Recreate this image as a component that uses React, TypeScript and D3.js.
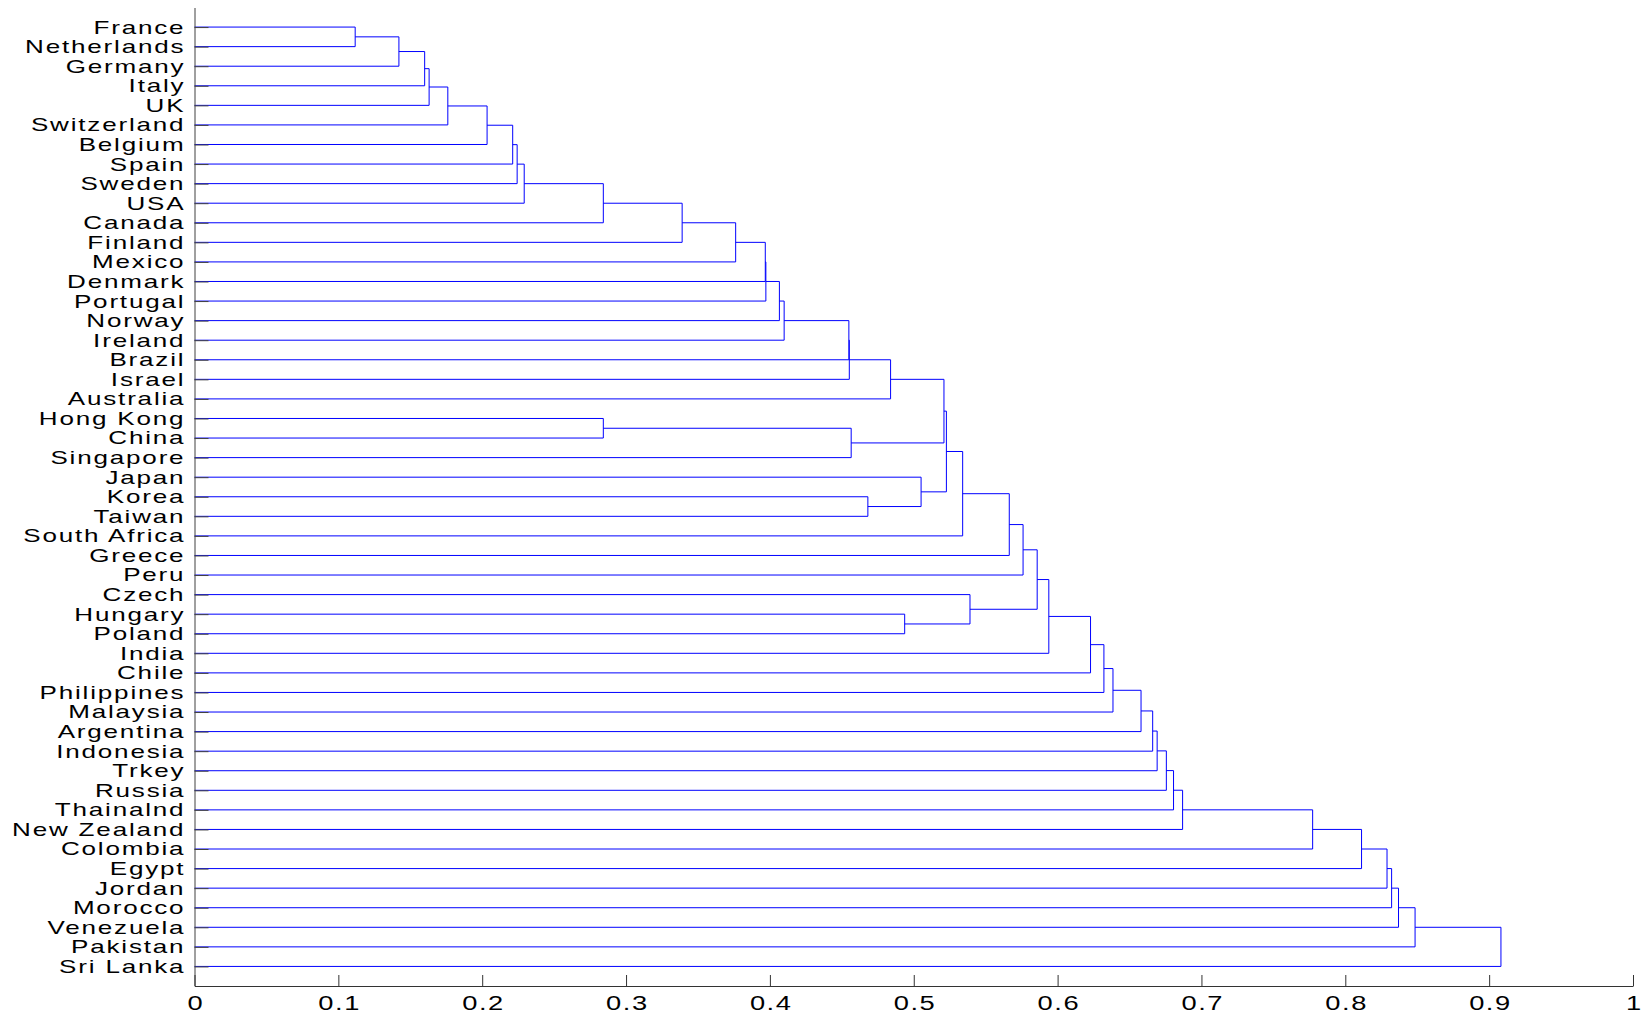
import React, { useEffect, useRef } from "react"
import * as d3 from "d3"

// leaf order, top to bottom
const countries = [
  "France", "Netherlands", "Germany", "Italy", "UK", "Switzerland", "Belgium", "Spain", "Sweden", "USA",
  "Canada", "Finland", "Mexico", "Denmark", "Portugal", "Norway", "Ireland", "Brazil", "Israel", "Australia",
  "Hong Kong", "China", "Singapore", "Japan", "Korea", "Taiwan", "South Africa", "Greece", "Peru", "Czech",
  "Hungary", "Poland", "India", "Chile", "Philippines", "Malaysia", "Argentina", "Indonesia", "Trkey", "Russia",
  "Thainalnd", "New Zealand", "Colombia", "Egypt", "Jordan", "Morocco", "Venezuela", "Pakistan", "Sri Lanka",
]

// linkage: node ids 0..48 are leaves, merge k creates node 49 + k
const mergeLeft = [
  0, 49, 50, 51, 52, 53, 54, 55, 56, 20, 57, 59, 60, 61, 62, 63, 64, 65, 66, 58, 24, 67, 30, 23,
  70, 73, 74, 29, 75, 77, 78, 79, 80, 81, 82, 83, 84, 85, 86, 87, 88, 89, 90, 91, 92, 93, 94, 95,
]
const mergeRight = [
  1, 2, 3, 4, 5, 6, 7, 8, 9, 21, 10, 11, 12, 13, 14, 15, 16, 17, 18, 22, 25, 19, 31, 69,
  68, 72, 26, 71, 27, 28, 76, 32, 33, 34, 35, 36, 37, 38, 39, 40, 41, 42, 43, 44, 45, 46, 47, 48,
]
const mergeDist = [
  0.1117, 0.1421, 0.16, 0.1631, 0.1761, 0.2034, 0.2212, 0.2243, 0.2292, 0.2842, 0.2842, 0.339,
  0.3762, 0.3968, 0.3972, 0.4066, 0.4099, 0.4549, 0.4552, 0.4565, 0.4681, 0.4839, 0.4937, 0.5051,
  0.521, 0.5227, 0.534, 0.5391, 0.5664, 0.576, 0.5858, 0.5939, 0.6229, 0.6322, 0.6385, 0.658,
  0.6661, 0.6692, 0.6756, 0.6806, 0.6869, 0.7773, 0.8113, 0.829, 0.8322, 0.837, 0.8485, 0.9082,
]
const xTicks = [0, 0.1, 0.2, 0.3, 0.4, 0.5, 0.6, 0.7, 0.8, 0.9, 1]

const width = 1644
const height = 1016
const font = "'Liberation Sans', Arial, Helvetica, sans-serif"
// the exported figure has horizontally stretched text
const stretch = "scale(1.4,1)"

const App = () => {
  const ref = useRef<SVGSVGElement>(null)

  useEffect(() => {
    const svg = d3.select(ref.current)
    svg.selectAll("*").remove()
    const n = countries.length

    const x = d3.scaleLinear().domain([0, 1]).range([194.5, 1633])
    const y = d3.scaleLinear().domain([0, n + 1]).range([7.5, 986])

    // MATLAB style: node sits at the mean of its children
    const nodeY: number[] = countries.map((_, i) => y(i + 1))
    const nodeH: number[] = countries.map(() => 0)
    const paths: string[] = []
    mergeDist.forEach((h, k) => {
      const a = mergeLeft[k]
      const b = mergeRight[k]
      const p = d3.path()
      p.moveTo(x(nodeH[a]), nodeY[a])
      p.lineTo(x(h), nodeY[a])
      p.lineTo(x(h), nodeY[b])
      p.lineTo(x(nodeH[b]), nodeY[b])
      paths.push(p.toString())
      nodeY.push((nodeY[a] + nodeY[b]) / 2)
      nodeH.push(h)
    })

    svg
      .append("g")
      .selectAll("path")
      .data(paths)
      .join("path")
      .attr("d", (d) => d)
      .attr("fill", "none")
      .attr("stroke", "#0000ff")
      .attr("stroke-width", 1)

    const yAxis = svg
      .append("g")
      .attr("transform", `translate(${x(0)},0)`)
      .call(
        d3
          .axisLeft(y)
          .tickValues(d3.range(1, n + 1))
          .tickFormat((d) => countries[(d as number) - 1])
          .tickSizeInner(-14)
          .tickSizeOuter(0)
          .tickPadding(6.5)
      )
    yAxis.attr("color", "#404040")
    yAxis
      .selectAll("text")
      .attr("fill", "#000")
      .attr("font-family", font)
      .attr("font-size", 18.6)
      .attr("letter-spacing", 1.3)
      .attr("transform", stretch)

    const xAxis = svg
      .append("g")
      .attr("transform", `translate(0,${y(n + 1)})`)
      .call(
        d3
          .axisBottom(x)
          .tickValues(xTicks)
          .tickFormat((d) => String(d))
          .tickSizeInner(-11)
          .tickSizeOuter(0)
          .tickPadding(10.5)
      )
    xAxis.attr("color", "#333")
    xAxis
      .selectAll("text")
      .attr("fill", "#000")
      .attr("font-family", font)
      .attr("font-size", 19.5)
      .attr("letter-spacing", 1.1)
      .attr("x", 0.55)
      .attr("transform", stretch)
  }, [])

  return (
    <svg
      ref={ref}
      width={width}
      height={height}
      style={{ position: "absolute", left: 0, top: 0, background: "#fff" }}
    />
  )
}

export default App
